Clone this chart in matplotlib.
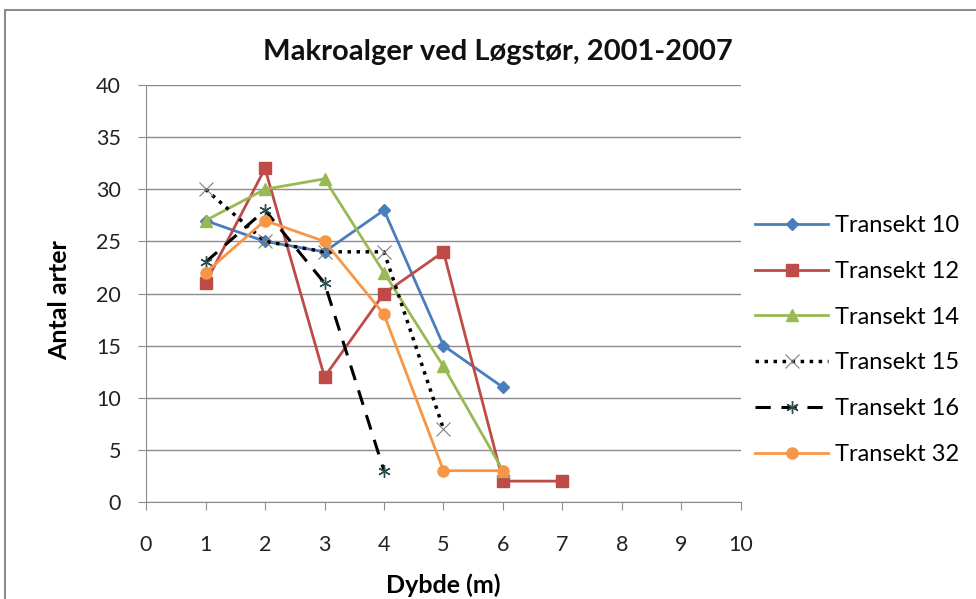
import matplotlib
matplotlib.use("Agg")
import matplotlib.pyplot as plt
from matplotlib.patches import Rectangle

plt.rcParams['font.family'] = ['Lato', 'DejaVu Sans']

# --- data ---
depth_10 = [1, 2, 3, 4, 5, 6]
t10 = [27, 25, 24, 28, 15, 11]
depth_12 = [1, 2, 3, 4, 5, 6, 7]
t12 = [21, 32, 12, 20, 24, 2, 2]
depth_14 = [1, 2, 3, 4, 5, 6]
t14 = [27, 30, 31, 22, 13, 3]
depth_15 = [1, 2, 3, 4, 5]
t15 = [30, 25, 24, 24, 7]
depth_16 = [1, 2, 3, 4]
t16 = [23, 28, 21, 3]
depth_32 = [1, 2, 3, 4, 5, 6]
t32 = [22, 27, 25, 18, 3, 3]

title = "Makroalger ved Løgstør, 2001-2007"
xticks = list(range(0, 11))
yticks = list(range(0, 45, 5))

fig = plt.figure(figsize=(9.76, 5.99), dpi=100)
ax = fig.add_axes([0.1496, 0.162, 0.6096, 0.696])

# outer chart border
fig.patches.append(Rectangle((0.005, -0.05), 1.2, 1.033, transform=fig.transFigure,
                             fill=False, edgecolor="#8c8c8c", linewidth=1.5))

lw = 2.0
ax.plot(depth_10, t10, color="#4a7ebb", lw=lw, marker="D", ms=6, label="Transekt 10")
ax.plot(depth_12, t12, color="#be4b48", lw=lw, marker="s", ms=8, label="Transekt 12")
ax.plot(depth_14, t14, color="#98b954", lw=lw, marker="^", ms=8, label="Transekt 14")
ax.plot(depth_15, t15, color="black", lw=2.5, ls=(0, (1, 1.6)), marker="x", ms=10,
        mec="#7f7f7f", mew=0.8, label="Transekt 15")
ax.plot(depth_16, t16, color="black", lw=2.2, ls=(0, (5, 3.5)), marker=(6, 2, 0), ms=9,
        mec="#2f4f4f", mew=1.0, label="Transekt 16")
ax.plot(depth_32, t32, color="#f79646", lw=lw, marker="o", ms=8, label="Transekt 32")

ax.set_xlim(0, 10)
ax.set_ylim(0, 40)
ax.set_xticks(xticks)
ax.set_yticks(yticks)
ax.yaxis.grid(True, color="#8c8c8c", lw=1.0)
ax.set_axisbelow(True)
for s in ["top", "right"]:
    ax.spines[s].set_visible(False)
for s in ["left", "bottom"]:
    ax.spines[s].set_color("#8c8c8c")
ax.tick_params(axis="both", colors="#8c8c8c", labelcolor="#222222", labelsize=15.5,
               length=6, direction="out")
ax.tick_params(axis="x", pad=18)
ax.tick_params(axis="y", pad=12)

fig.text(498 / 976, 1 - 52 / 599, title, fontsize=21, fontweight="bold",
         ha="center", va="center", color="#111111")
ax.set_xlabel("Dybde (m)", fontsize=18, fontweight="bold", va="center")
ax.xaxis.set_label_coords(0.5, -0.199)
ax.set_ylabel("Antal arter", fontsize=18, fontweight="bold", va="center")
ax.yaxis.set_label_coords(-0.1445, 0.484)

ax.legend(loc="center left", bbox_to_anchor=(755 / 976, 1 - 340 / 599),
          bbox_transform=fig.transFigure, frameon=False, fontsize=17,
          handlelength=3.1, labelspacing=1.05, handletextpad=0.3,
          borderaxespad=0, borderpad=0)

fig.savefig("out.png", dpi=100, facecolor="white")
